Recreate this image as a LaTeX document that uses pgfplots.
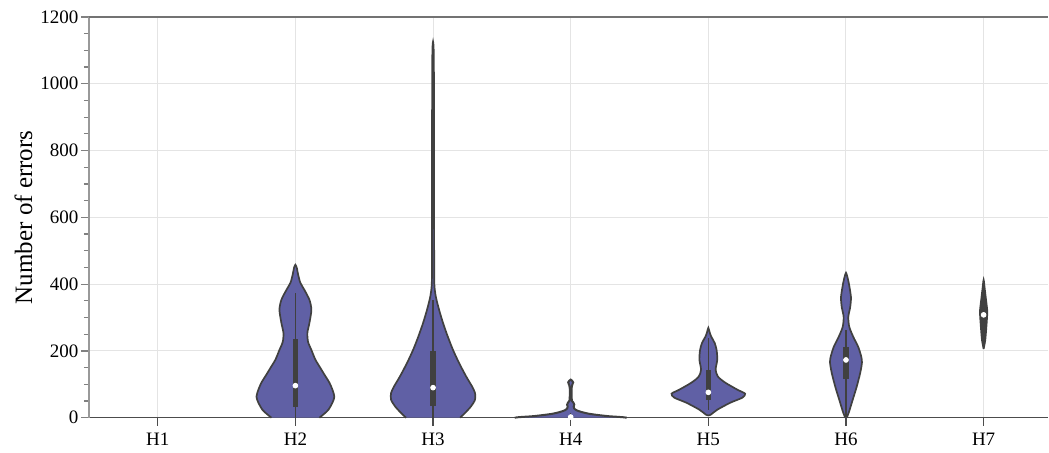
\documentclass[border=0pt]{standalone}
\usepackage{fontspec}
\setmainfont{Liberation Serif}
\usepackage{pgfplots}
\pgfplotsset{compat=1.18}
\definecolor{vfill}{RGB}{96,96,165}
\definecolor{vline}{RGB}{64,64,64}
\definecolor{gridc}{RGB}{228,228,228}
\begin{document}
\begin{tikzpicture}
\begin{axis}[
  scale only axis,
  width=480pt, height=200.5pt,
  xmin=-0.5, xmax=6.47,
  ymin=0, ymax=1200,
  axis x line*=bottom, axis y line*=left,
  axis line style={-},
  x axis line style={draw=black!70, line width=0.6pt},
  y axis line style={draw=black!40, line width=1pt},
  xtick={0,...,6},
  xticklabels={H1,H2,H3,H4,H5,H6,H7},
  ytick={0,200,...,1200},
  minor y tick num=3,
  tick align=outside,
  major tick length=4pt, minor tick length=2.5pt,
  ytick style={black!50, line width=0.6pt},
  xtick style={black!70, line width=0.6pt},
  grid=major, major grid style={gridc, line width=0.5pt},
  minor grid style={draw=none},
  ticklabel style={font=\fontsize{9.5}{10}\selectfont},
  yticklabel style={xshift=2.2pt},
  /pgf/number format/assume math mode=true,
  /pgf/number format/1000 sep={},
  ylabel={Number of errors},
  ylabel style={font=\fontsize{12.5}{14}\selectfont, at={(rel axis cs:-0.0585,0.5)}, anchor=south, inner sep=0pt},
  clip=false,
]
% top spine
\draw[black!55, line width=0.7pt] (rel axis cs:0,1) -- (rel axis cs:1,1);

% violins
\pgfplotsset{violin/.style={fill=vfill, draw=vline, line width=0.85pt, smooth, tension=0.45}}
% H2
\addplot[violin] coordinates {
(0.826,0) (0.79,12) (0.760,24) (0.731,45) (0.717,63) (0.731,84) (0.753,105) (0.789,129) (0.820,150) (0.855,174) (0.884,203) (0.908,227) (0.913,254) (0.898,284) (0.884,323) (0.898,353) (0.935,383) (0.964,404) (0.980,428) (0.990,449) (1,458)
(1.010,449) (1.020,428) (1.036,404) (1.065,383) (1.102,353) (1.116,323) (1.102,284) (1.087,254) (1.092,227) (1.116,203) (1.145,174) (1.180,150) (1.211,129) (1.247,105) (1.269,84) (1.283,63) (1.269,45) (1.240,24) (1.21,12) (1.174,0)};
% H3
\addplot[violin] coordinates {
(1.804,0) (1.768,14) (1.724,34) (1.695,54) (1.695,74) (1.717,94) (1.760,124) (1.811,164) (1.855,203) (1.893,243) (1.927,283) (1.956,323) (1.980,363) (1.991,403) (1.992,500) (1.993,700) (1.993,900) (1.994,1050) (1.996,1110) (2,1126)
(2.004,1110) (2.006,1050) (2.007,900) (2.007,700) (2.008,500) (2.009,403) (2.020,363) (2.044,323) (2.073,283) (2.107,243) (2.145,203) (2.189,164) (2.240,124) (2.283,94) (2.305,74) (2.305,54) (2.276,34) (2.232,14) (2.196,0)};
% H4
\addplot[violin, line width=1pt] coordinates {
(2.593,0) (2.62,1.5) (2.67,3) (2.724,4.5) (2.80,8) (2.869,12) (2.92,17) (2.956,22) (2.975,28) (2.978,34) (2.974,39) (2.98,45) (2.99,50) (2.993,60) (2.993,90) (2.987,100) (2.982,106) (2.99,111) (3,114)
(3.01,111) (3.018,106) (3.013,100) (3.007,90) (3.007,60) (3.01,50) (3.02,45) (3.026,39) (3.022,34) (3.025,28) (3.044,22) (3.08,17) (3.131,12) (3.20,8) (3.276,4.5) (3.33,3) (3.38,1.5) (3.407,0)};
% H5
\addplot[violin] coordinates {
(4,7) (3.983,9) (3.935,24) (3.840,45) (3.753,60) (3.733,72) (3.789,84) (3.877,105) (3.930,123) (3.947,144) (3.935,174) (3.940,203) (3.954,224) (3.978,242) (3.990,255) (4,269)
(4.010,255) (4.022,242) (4.046,224) (4.060,203) (4.065,174) (4.053,144) (4.070,123) (4.123,105) (4.211,84) (4.267,72) (4.247,60) (4.160,45) (4.065,24) (4.017,9) (4,7)};
% H6
\addplot[violin] coordinates {
(4.995,0) (4.980,15) (4.951,54) (4.922,93) (4.896,135) (4.884,165) (4.889,183) (4.911,212) (4.947,242) (4.976,272) (4.983,302) (4.969,332) (4.964,362) (4.980,404) (4.992,425) (5,434)
(5.008,425) (5.020,404) (5.036,362) (5.031,332) (5.017,302) (5.024,272) (5.053,242) (5.089,212) (5.111,183) (5.116,165) (5.104,135) (5.078,93) (5.049,54) (5.020,15) (5.005,0)};
% H7 (so narrow that the outline covers the fill)
\addplot[violin, fill=vline] coordinates {
(6,206) (5.988,233) (5.980,272) (5.974,308) (5.974,323) (5.985,362) (5.993,390) (6,413)
(6.007,390) (6.015,362) (6.026,323) (6.026,308) (6.020,272) (6.012,233) (6,206)};

% whiskers
\pgfplotsset{whisk/.style={vline, line width=0.8pt}, boxs/.style={vline, line width=2.6pt}}
\addplot[whisk] coordinates {(1,0) (1,374)};
\addplot[whisk] coordinates {(2,0) (2,353)};
\addplot[whisk] coordinates {(3,0) (3,15)};
\addplot[whisk] coordinates {(4,24) (4,240)};
\addplot[whisk] coordinates {(5,3) (5,263)};
\addplot[whisk] coordinates {(6,215) (6,400)};
% boxes
\addplot[boxs] coordinates {(1,33) (1,237)};
\addplot[boxs] coordinates {(2,36) (2,200)};
\addplot[boxs] coordinates {(3,0) (3,6)};
\addplot[boxs] coordinates {(4,54) (4,142)};
\addplot[boxs] coordinates {(5,117) (5,212)};
\addplot[boxs] coordinates {(6,280) (6,335)};
% medians
\addplot[only marks, mark=*, mark size=1.2pt, draw=white, fill=white] coordinates {(1,96) (2,90) (3,2) (4,76) (5,173) (6,308)};
\end{axis}
\path ([xshift=-44.5pt,yshift=-14.5pt]current axis.south west) rectangle ([yshift=8.5pt]current axis.north east);
\end{tikzpicture}
\end{document}
